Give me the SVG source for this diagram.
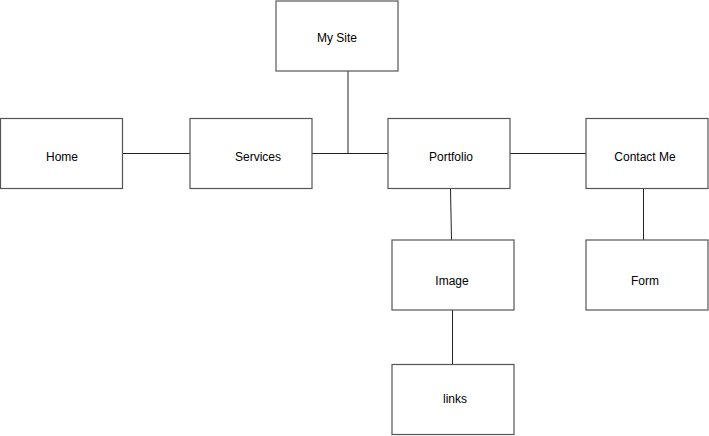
<svg xmlns="http://www.w3.org/2000/svg" width="709" height="436" viewBox="0 0 709 436">
<style>
.box{fill:#fff;stroke:#555;stroke-width:1.2}
.lbl{font-family:"Liberation Sans",Arial,sans-serif;font-size:12px;fill:#000;text-anchor:middle;dominant-baseline:central}
.con{stroke:#222;stroke-width:1;fill:none}
</style>
<rect width="709" height="436" fill="#fff"/>
<g id="connectors">
<line class="con" x1="122" y1="153.5" x2="190" y2="153.5"/>
<line class="con" x1="312" y1="153.5" x2="388" y2="153.5"/>
<line class="con" x1="348" y1="71" x2="348" y2="153.5"/>
<line class="con" x1="510" y1="153.5" x2="586" y2="153.5"/>
<line class="con" x1="450.5" y1="189" x2="451.5" y2="240"/>
<line class="con" x1="643.5" y1="189" x2="643.5" y2="240"/>
<line class="con" x1="452.5" y1="310" x2="452.5" y2="364"/>
</g>
<g id="mysite"><rect class="box" x="276" y="1" width="122" height="70"/><text class="lbl" x="337" y="38">My Site</text></g>
<g id="home"><rect class="box" x="0.5" y="118.5" width="122" height="70"/><text class="lbl" x="62" y="157">Home</text></g>
<g id="services"><rect class="box" x="190" y="118.5" width="122" height="70"/><text class="lbl" x="258" y="157">Services</text></g>
<g id="portfolio"><rect class="box" x="388" y="118.5" width="122" height="70"/><text class="lbl" x="451" y="157">Portfolio</text></g>
<g id="contact"><rect class="box" x="586" y="118.5" width="122" height="70"/><text class="lbl" x="645" y="157">Contact Me</text></g>
<g id="image"><rect class="box" x="392" y="240" width="122" height="70"/><text class="lbl" x="452" y="281">Image</text></g>
<g id="form"><rect class="box" x="586" y="240" width="122" height="70"/><text class="lbl" x="645" y="281">Form</text></g>
<g id="links"><rect class="box" x="392" y="364.5" width="122" height="70"/><text class="lbl" x="455" y="399">links</text></g>
</svg>
